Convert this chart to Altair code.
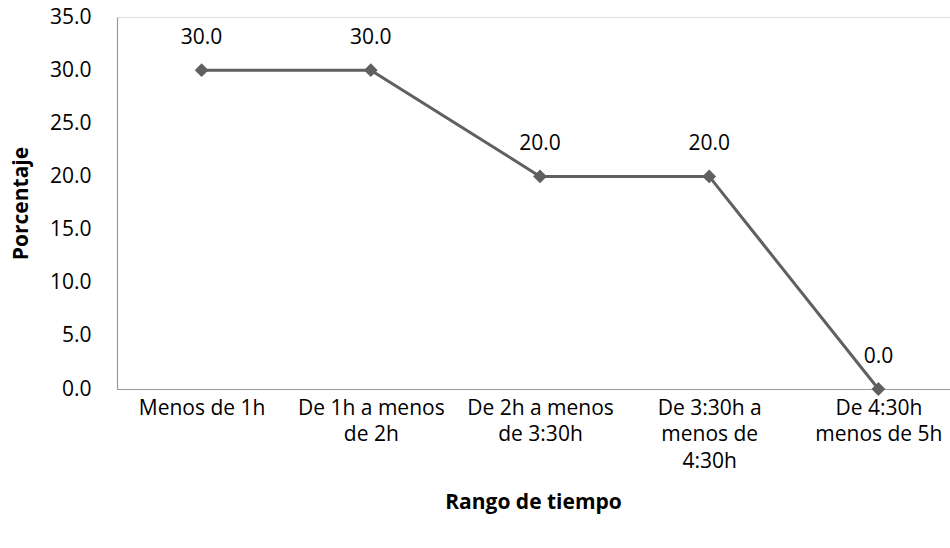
import altair as alt
import pandas as pd

# Time ranges (line breaks as shown on the axis) and percentages
categorias = [
    "Menos de 1h",
    "De 1h a menos|de 2h",
    "De 2h a menos|de 3:30h",
    "De 3:30h a|menos de|4:30h",
    "De 4:30h|menos de 5h",
]
porcentajes = [30.0, 30.0, 20.0, 20.0, 0.0]

df = pd.DataFrame({"rango": categorias, "porcentaje": porcentajes})

FONT = "Open Sans"
GRIS = "#606060"
TAM = 21

x_enc = alt.X(
    "rango:N",
    sort=categorias,
    scale=alt.Scale(range=[0, 846], paddingInner=0, paddingOuter=0),
    axis=alt.Axis(
        title="Rango de tiempo",
        titleFont=FONT,
        titleFontSize=TAM,
        titleFontWeight="bold",
        titleColor="black",
        titleX=416,
        titleY=102,
        labelExpr="split(datum.label, '|')",
        labelAngle=0,
        labelFont=FONT,
        labelFontSize=TAM,
        labelColor="black",
        labelLineHeight=26.5,
        labelPadding=8,
        labelBaseline="top",
        ticks=False,
        grid=False,
        domainColor="#9a9a9a",
        domainWidth=1.2,
    ),
)

y_enc = alt.Y(
    "porcentaje:Q",
    scale=alt.Scale(domain=[0, 35], nice=False),
    axis=alt.Axis(
        title="Porcentaje",
        titleFont=FONT,
        titleFontSize=TAM,
        titleFontWeight="bold",
        titleColor="black",
        titleX=-86,
        titleY=186,
        values=[0, 5, 10, 15, 20, 25, 30, 35],
        format=".1f",
        labelFont=FONT,
        labelFontSize=TAM,
        labelColor="black",
        labelPadding=26,
        ticks=False,
        grid=False,
        domainColor="#9a9a9a",
        domainWidth=1.2,
    ),
)

base = alt.Chart(df).encode(x=x_enc, y=y_enc)

linea = base.mark_line(color=GRIS, strokeWidth=3)
puntos = base.mark_point(shape="diamond", filled=True, size=190, color=GRIS, opacity=1)
etiquetas = base.mark_text(
    dy=-32, font=FONT, fontSize=TAM, color="black", baseline="middle"
).encode(text=alt.Text("porcentaje:Q", format=".1f"))

chart = (
    alt.layer(linea, puntos, etiquetas)
    .properties(
        width=833,
        height=372,
        autosize=alt.AutoSizeParams(type="none"),
        padding={"left": 117, "top": 17, "right": 0, "bottom": 159},
    )
    .configure_view(stroke=None)
    .configure(background="white")
)

chart.save("out.html", embed_options={"renderer": "svg", "actions": False})
